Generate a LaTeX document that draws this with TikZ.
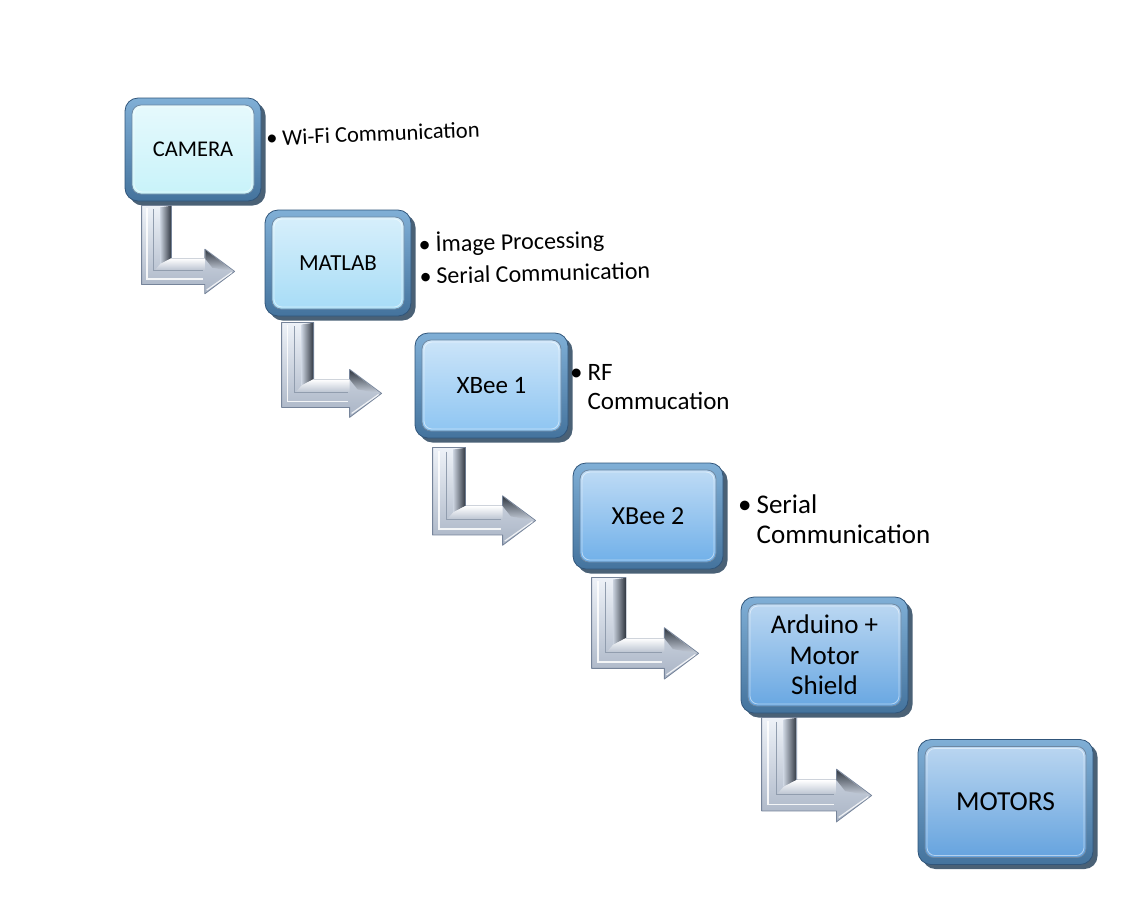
\documentclass[tikz,border=0pt]{standalone}
\usepackage{fontspec}
\setmainfont{Carlito}
\usetikzlibrary{shadows}
\definecolor{ringT}{HTML}{80AFD6}
\definecolor{ringB}{HTML}{44739D}
\definecolor{ringD}{HTML}{30557A}
\definecolor{shadowC}{HTML}{2B465F}
\definecolor{camC}{HTML}{C6F2F9}
\definecolor{matC}{HTML}{A4DBF6}
\definecolor{xbaC}{HTML}{8AC3F1}
\definecolor{xbbC}{HTML}{6BADE8}
\definecolor{ardC}{HTML}{63A4E1}
\definecolor{motC}{HTML}{60A0DD}
\definecolor{arrT}{HTML}{EEF2F8}
\definecolor{arrB}{HTML}{A9B4C5}
\definecolor{arrM}{HTML}{C9D1DD}
\definecolor{arrD}{HTML}{353C46}
\definecolor{arrLine}{HTML}{76849A}
\tikzset{
  box/.style={rectangle, rounded corners=13pt, top color=ringT, bottom color=ringB,
    draw=ringD, line width=0.8pt, align=center, text=black, inner sep=0pt,
    drop shadow={shadow xshift=4.5pt, shadow yshift=-4.5pt, fill=shadowC, opacity=0.85},
    path picture={
      \shade[top color=#1!40!white, bottom color=#1, rounded corners=9pt]
        ([xshift=7pt,yshift=-7pt]path picture bounding box.north west) rectangle
        ([xshift=-7pt,yshift=7pt]path picture bounding box.south east);
      \draw[ringD!70, line width=0.8pt, rounded corners=9pt]
        ([xshift=7pt,yshift=-7pt]path picture bounding box.north west) rectangle
        ([xshift=-7pt,yshift=7pt]path picture bounding box.south east);
      \draw[white, opacity=0.5, line width=0.8pt, rounded corners=8pt]
        ([xshift=9pt,yshift=-9pt]path picture bounding box.north west) rectangle
        ([xshift=-9pt,yshift=9pt]path picture bounding box.south east);
    }},
  lbl/.style={anchor=west, inner sep=0pt, text=black, align=left},
}
\newcommand{\bendarrow}[2]{%
  \begin{scope}[shift={(#1)}, scale=#2]
    \path[draw=arrLine, line width=0.8pt, top color=arrT, bottom color=arrB, line join=round]
      (0,0) -- (32,0) -- (32,57) -- (68,57) -- (68,47) -- (100,71) -- (68,95) -- (68,85) -- (0,85) -- cycle;
    \shade[left color=arrM, right color=arrD]
      (20,2) -- (31.5,0.5) -- (31.5,57) -- (20,63) -- cycle;
    \shade[top color=arrD, bottom color=arrM]
      (68.5,48) -- (99,71) -- (76,67) -- (68.5,57.5) -- cycle;
    \shade[top color=white, bottom color=arrB!80]
      (20,63) -- (31.5,57) -- (68,57) -- (68,70) -- (14,70) -- cycle;
    \draw[white, line width=1.6pt, opacity=0.85] (6,3) -- (6,79) -- (66,79);
    \draw[arrLine!80, line width=0.5pt] (13,4) -- (13,70) -- (66,70);
    \draw[white, line width=1.2pt, opacity=0.8] (70,91) -- (97,72);
  \end{scope}}

\begin{document}
\begin{tikzpicture}[x=1pt, y=-1pt]
  \useasboundingbox[fill=white] (0,0) rectangle (1134,906);

  % boxes
  \node[box=camC, minimum width=136pt, minimum height=103pt,
        font=\fontsize{22.5}{26}\selectfont] (cam) at (193,149.5) {CAMERA};
  \node[box=matC, minimum width=146pt, minimum height=106pt,
        font=\fontsize{23}{27}\selectfont] (mat) at (338,263) {MATLAB};
  \node[box=xbaC, minimum width=153pt, minimum height=105pt,
        font=\fontsize{25}{28}\selectfont] (xba) at (491.5,385.5) {XBee 1};
  \node[box=xbbC, minimum width=150pt, minimum height=106pt,
        font=\fontsize{26}{29}\selectfont] (xbb) at (648,516) {XBee 2};
  \node[box=ardC, minimum width=167pt, minimum height=116pt,
        font=\fontsize{27}{30.5}\selectfont] (ard) at (824.5,655) {Arduino +\\Motor\\Shield};
  \node[box=motC, minimum width=175pt, minimum height=125pt,
        font=\fontsize{27.5}{31}\selectfont] (mot) at (1005.5,802) {MOTORS};

  % labels
  \node[lbl, rotate=2.3, font=\fontsize{22.5}{27}\selectfont] (camL) at (266,138)
    {\textbullet\hspace{5pt}Wi-Fi Communication};
  \node[lbl, rotate=1.5, font=\fontsize{24}{32}\selectfont] (matL) at (419,262)
    {\begin{tabular}{@{}l@{\hspace{5pt}}l@{}}\textbullet & İmage Processing\\ \textbullet & Serial Communication\end{tabular}};
  \node[lbl, font=\fontsize{25}{29}\selectfont] (xbaL) at (570,389)
    {\begin{tabular}{@{}l@{\hspace{5pt}}l@{}}\textbullet & RF\\ & Commucation\end{tabular}};
  \node[lbl, font=\fontsize{27}{30}\selectfont] (xbbL) at (738,522)
    {\begin{tabular}{@{}l@{\hspace{5pt}}l@{}}\textbullet & Serial\\ & Communication\end{tabular}};

  % bent arrows (connectors from each box to the next)
  \coordinate (a1) at ([xshift=17pt, yshift=-4pt]cam.south west);
  \coordinate (a2) at ([xshift=17pt, yshift=-6pt]mat.south west);
  \coordinate (a3) at ([xshift=18pt, yshift=-9pt]xba.south west);
  \coordinate (a4) at ([xshift=19pt, yshift=-8pt]xbb.south west);
  \coordinate (a5) at ([xshift=21pt, yshift=-4pt]ard.south west);
  \bendarrow{a1}{0.93}
  \bendarrow{a2}{1.0}
  \bendarrow{a3}{1.03}
  \bendarrow{a4}{1.07}
  \bendarrow{a5}{1.1}
\end{tikzpicture}
\end{document}
